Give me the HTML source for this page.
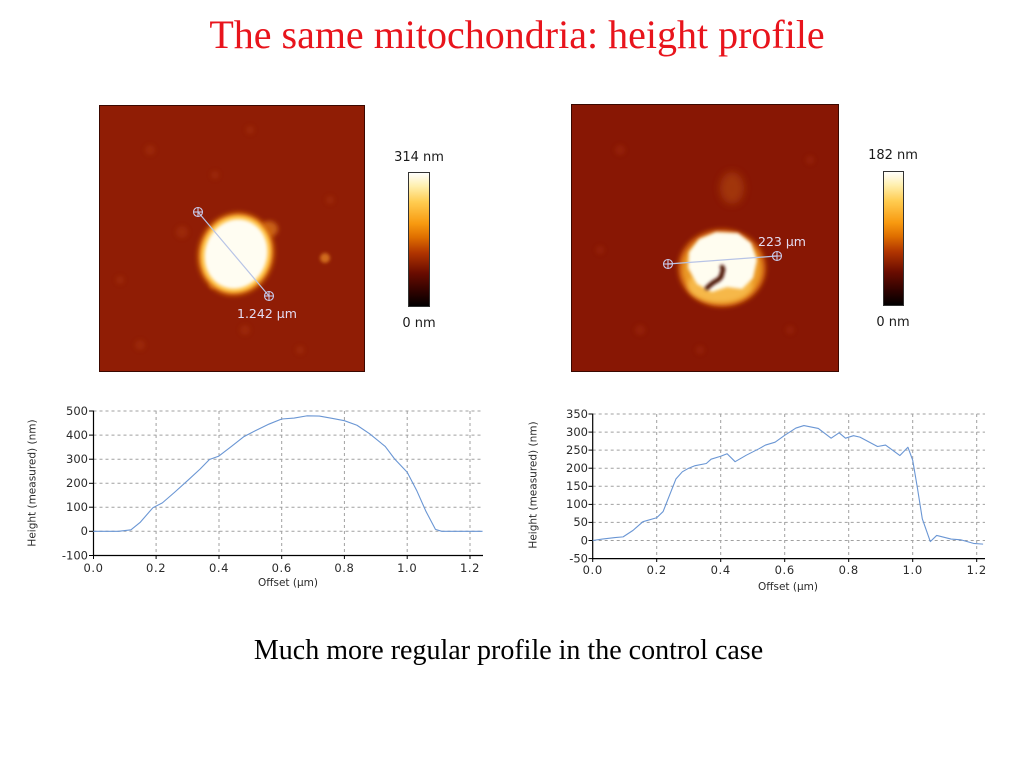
<!DOCTYPE html>
<html><head><meta charset="utf-8"><style>
html,body{margin:0;padding:0;background:#fff;}
body{width:1024px;height:767px;overflow:hidden;}
svg{display:block;}
.tk{font-family:"DejaVu Sans","Liberation Sans",sans-serif;font-size:11.5px;fill:#2a2a2a;}
.al{font-family:"DejaVu Sans","Liberation Sans",sans-serif;font-size:10.5px;fill:#2a2a2a;}
.cb{font-family:"DejaVu Sans","Liberation Sans",sans-serif;font-size:13px;fill:#1a1a1a;}
.ml{font-family:"DejaVu Sans","Liberation Sans",sans-serif;font-size:12.5px;fill:#e4dcf2;}
.g{stroke:#a0a0a0;stroke-width:1;stroke-dasharray:3,3;fill:none;}
.ax{stroke:#000;stroke-width:1.2;fill:none;}
.dl{fill:none;stroke:#6a96d4;stroke-width:1.1;vector-effect:non-scaling-stroke;stroke-linejoin:round;}
</style></head><body>
<svg width="1024" height="767" viewBox="0 0 1024 767" xmlns="http://www.w3.org/2000/svg">
<defs>
<linearGradient id="cmap" x1="0" y1="1" x2="0" y2="0">
<stop offset="0" stop-color="#000"/>
<stop offset="0.1" stop-color="#2a0200"/>
<stop offset="0.25" stop-color="#6a0c00"/>
<stop offset="0.4" stop-color="#b03400"/>
<stop offset="0.52" stop-color="#e07000"/>
<stop offset="0.62" stop-color="#f89a10"/>
<stop offset="0.78" stop-color="#ffcc50"/>
<stop offset="0.9" stop-color="#fff0b0"/>
<stop offset="1" stop-color="#fff"/>
</linearGradient>
<filter id="b1" x="-50%" y="-50%" width="200%" height="200%"><feGaussianBlur stdDeviation="1.5"/></filter>
<filter id="b2" x="-50%" y="-50%" width="200%" height="200%"><feGaussianBlur stdDeviation="2.5"/></filter>
<filter id="b3" x="-50%" y="-50%" width="200%" height="200%"><feGaussianBlur stdDeviation="4"/></filter>
<clipPath id="cL"><rect x="99" y="105" width="266" height="267"/></clipPath>
<clipPath id="cR"><rect x="571" y="104" width="268" height="268"/></clipPath>
</defs>

<!-- Title -->
<text x="517" y="48" text-anchor="middle" style="font-family:'Liberation Serif',serif;font-size:40px;fill:#e8141c;">The same mitochondria: height profile</text>

<!-- Left AFM image -->
<g clip-path="url(#cL)">
<rect x="99" y="105" width="266" height="267" fill="#901d05"/>
<g fill="#a83410" opacity="0.5" filter="url(#b2)">
<circle cx="150" cy="150" r="5"/><circle cx="250" cy="130" r="4"/><circle cx="330" cy="200" r="4"/>
<circle cx="140" cy="345" r="5"/><circle cx="245" cy="330" r="5"/><circle cx="300" cy="350" r="4"/>
<circle cx="182" cy="232" r="6"/><circle cx="215" cy="175" r="4"/><circle cx="120" cy="280" r="4"/>
</g>
<ellipse cx="269" cy="229" rx="9" ry="8" fill="#c85e18" filter="url(#b2)"/>
<circle cx="325" cy="258" r="5" fill="#d06a1e" filter="url(#b1)"/>
<circle cx="213" cy="285" r="4" fill="#bc5418" filter="url(#b1)"/>
<g transform="rotate(18 236 254)">
<ellipse cx="236" cy="254" rx="38" ry="42" fill="#d86e10" filter="url(#b2)"/>
<ellipse cx="236" cy="254" rx="35" ry="39" fill="#ffc24a" filter="url(#b1)"/>
<ellipse cx="236" cy="254" rx="31" ry="35" fill="#fffdf2" filter="url(#b1)"/>
</g>
<line x1="198" y1="212" x2="269" y2="296" stroke="#b8c4e6" stroke-width="1.2"/>
<g stroke="#c8c8e8" stroke-width="1.1" fill="none">
<circle cx="198" cy="212" r="4.5"/><line x1="193" y1="212" x2="203" y2="212"/><line x1="198" y1="207" x2="198" y2="217"/>
<circle cx="269" cy="296" r="4.5"/><line x1="264" y1="296" x2="274" y2="296"/><line x1="269" y1="291" x2="269" y2="301"/>
</g>
<text x="237" y="318" class="ml">1.242 µm</text>
</g>
<rect x="99.5" y="105.5" width="265" height="266" fill="none" stroke="#3a0800" stroke-width="1"/>

<!-- Left colorbar -->
<text x="419" y="161" text-anchor="middle" class="cb">314 nm</text>
<rect x="408.5" y="172.5" width="21" height="134" fill="url(#cmap)" stroke="#333" stroke-width="1"/>
<text x="419" y="327" text-anchor="middle" class="cb">0 nm</text>

<!-- Right AFM image -->
<g clip-path="url(#cR)">
<rect x="571" y="104" width="268" height="268" fill="#881704"/>
<g fill="#a02c10" opacity="0.5" filter="url(#b2)">
<circle cx="620" cy="150" r="5"/><circle cx="810" cy="160" r="4"/><circle cx="640" cy="330" r="5"/>
<circle cx="790" cy="330" r="4"/><circle cx="600" cy="250" r="4"/><circle cx="700" cy="350" r="4"/>
</g>
<ellipse cx="732" cy="188" rx="12" ry="16" fill="#a83c10" opacity="0.8" filter="url(#b3)"/>
<ellipse cx="722" cy="268" rx="44" ry="39" fill="#cc5c0e" filter="url(#b2)"/>
<ellipse cx="722" cy="269" rx="40" ry="35" fill="#eb9a28" filter="url(#b2)"/>
<ellipse cx="720" cy="285" rx="32" ry="17" fill="#f6b848" filter="url(#b2)"/>
<path d="M689 252 L699 239 L716 232 L738 233 L751 243 L757 260 L753 278 L742 289 L727 287 L712 292 L697 284 L688 268 Z" fill="#fffdf0" filter="url(#b1)"/>
<path d="M707 288 Q712 283 716 281 Q722 278 722 273 Q724 269 722 267" stroke="#4a0c00" stroke-width="4.5" fill="none" stroke-linecap="round" filter="url(#b1)"/>
<line x1="668" y1="264" x2="777" y2="256" stroke="#b8c4e6" stroke-width="1.2"/>
<g stroke="#c8c8e8" stroke-width="1.1" fill="none">
<circle cx="668" cy="264" r="4.5"/><line x1="663" y1="264" x2="673" y2="264"/><line x1="668" y1="259" x2="668" y2="269"/>
<circle cx="777" cy="256" r="4.5"/><line x1="772" y1="256" x2="782" y2="256"/><line x1="777" y1="251" x2="777" y2="261"/>
</g>
<text x="758" y="246" class="ml">223 µm</text>
</g>
<rect x="571.5" y="104.5" width="267" height="267" fill="none" stroke="#3a0800" stroke-width="1"/>

<!-- Right colorbar -->
<text x="893" y="159" text-anchor="middle" class="cb">182 nm</text>
<rect x="883.5" y="171.5" width="20" height="134" fill="url(#cmap)" stroke="#333" stroke-width="1"/>
<text x="893" y="326" text-anchor="middle" class="cb">0 nm</text>

<!-- Left chart -->
<g>
<line class="g" x1="93.5" y1="411" x2="483" y2="411"/>
<line class="g" x1="93.5" y1="435.1" x2="483" y2="435.1"/>
<line class="g" x1="93.5" y1="459.2" x2="483" y2="459.2"/>
<line class="g" x1="93.5" y1="483.3" x2="483" y2="483.3"/>
<line class="g" x1="93.5" y1="507.2" x2="483" y2="507.2"/>
<line class="g" x1="93.5" y1="531.3" x2="483" y2="531.3"/>
<line class="g" x1="156.1" y1="411" x2="156.1" y2="555"/>
<line class="g" x1="219" y1="411" x2="219" y2="555"/>
<line class="g" x1="281.7" y1="411" x2="281.7" y2="555"/>
<line class="g" x1="344.4" y1="411" x2="344.4" y2="555"/>
<line class="g" x1="407.2" y1="411" x2="407.2" y2="555"/>
<line class="g" x1="470" y1="411" x2="470" y2="555"/>
<line class="ax" x1="93.5" y1="410.5" x2="93.5" y2="556"/>
<line class="ax" x1="93" y1="555.5" x2="483" y2="555.5"/>
<g stroke="#000" stroke-width="1">
<line x1="89" y1="411" x2="93.5" y2="411"/><line x1="89" y1="435.1" x2="93.5" y2="435.1"/><line x1="89" y1="459.2" x2="93.5" y2="459.2"/>
<line x1="89" y1="483.3" x2="93.5" y2="483.3"/><line x1="89" y1="507.2" x2="93.5" y2="507.2"/><line x1="89" y1="531.3" x2="93.5" y2="531.3"/>
<line x1="89" y1="555.5" x2="93.5" y2="555.5"/>
<line x1="93.5" y1="555.5" x2="93.5" y2="559"/><line x1="156.1" y1="555.5" x2="156.1" y2="559"/><line x1="219" y1="555.5" x2="219" y2="559"/>
<line x1="281.7" y1="555.5" x2="281.7" y2="559"/><line x1="344.4" y1="555.5" x2="344.4" y2="559"/><line x1="407.2" y1="555.5" x2="407.2" y2="559"/>
<line x1="470" y1="555.5" x2="470" y2="559"/>
</g>
<g class="tk" text-anchor="end">
<text x="88" y="415">500</text><text x="88" y="439">400</text><text x="88" y="463">300</text>
<text x="88" y="487">200</text><text x="88" y="511">100</text><text x="88" y="535">0</text><text x="88" y="559.5">-100</text>
</g>
<g class="tk" text-anchor="middle" style="letter-spacing:0.6px">
<text x="93.5" y="572">0.0</text><text x="156.1" y="572">0.2</text><text x="219" y="572">0.4</text><text x="281.7" y="572">0.6</text>
<text x="344.4" y="572">0.8</text><text x="407.2" y="572">1.0</text><text x="470" y="572">1.2</text>
</g>
<text x="288" y="586" text-anchor="middle" class="al">Offset (µm)</text>
<text x="0" y="0" transform="translate(35.5 483) rotate(-90)" text-anchor="middle" class="al">Height (measured) (nm)</text>
<g transform="translate(93.3 531.3) scale(313.9 -0.241)">
<polyline class="dl" points="0,0 0.08,0 0.12,6 0.15,38 0.19,98 0.22,118 0.26,163 0.30,210 0.34,258 0.37,298 0.40,312 0.44,352 0.48,393 0.52,420 0.56,445 0.60,466 0.64,470 0.68,479 0.72,478 0.76,469 0.80,459 0.84,440 0.88,405 0.93,352 0.96,300 1.00,245 1.03,170 1.06,82 1.09,8 1.11,0 1.24,0"/>
</g>
</g>

<!-- Right chart -->
<g>
<line class="g" x1="592.7" y1="414" x2="985" y2="414"/>
<line class="g" x1="592.7" y1="432.1" x2="985" y2="432.1"/>
<line class="g" x1="592.7" y1="450.1" x2="985" y2="450.1"/>
<line class="g" x1="592.7" y1="468.2" x2="985" y2="468.2"/>
<line class="g" x1="592.7" y1="486.3" x2="985" y2="486.3"/>
<line class="g" x1="592.7" y1="504.4" x2="985" y2="504.4"/>
<line class="g" x1="592.7" y1="522.4" x2="985" y2="522.4"/>
<line class="g" x1="592.7" y1="540.5" x2="985" y2="540.5"/>
<line class="g" x1="656.7" y1="414" x2="656.7" y2="558"/>
<line class="g" x1="720.7" y1="414" x2="720.7" y2="558"/>
<line class="g" x1="784.7" y1="414" x2="784.7" y2="558"/>
<line class="g" x1="848.7" y1="414" x2="848.7" y2="558"/>
<line class="g" x1="912.7" y1="414" x2="912.7" y2="558"/>
<line class="g" x1="976.7" y1="414" x2="976.7" y2="558"/>
<line class="ax" x1="592.7" y1="413.5" x2="592.7" y2="559"/>
<line class="ax" x1="592" y1="558.6" x2="985" y2="558.6"/>
<g stroke="#000" stroke-width="1">
<line x1="588.5" y1="414" x2="592.7" y2="414"/><line x1="588.5" y1="432.1" x2="592.7" y2="432.1"/><line x1="588.5" y1="450.1" x2="592.7" y2="450.1"/>
<line x1="588.5" y1="468.2" x2="592.7" y2="468.2"/><line x1="588.5" y1="486.3" x2="592.7" y2="486.3"/><line x1="588.5" y1="504.4" x2="592.7" y2="504.4"/>
<line x1="588.5" y1="522.4" x2="592.7" y2="522.4"/><line x1="588.5" y1="540.5" x2="592.7" y2="540.5"/><line x1="588.5" y1="558.6" x2="592.7" y2="558.6"/>
<line x1="592.7" y1="558.6" x2="592.7" y2="562"/><line x1="656.7" y1="558.6" x2="656.7" y2="562"/><line x1="720.7" y1="558.6" x2="720.7" y2="562"/>
<line x1="784.7" y1="558.6" x2="784.7" y2="562"/><line x1="848.7" y1="558.6" x2="848.7" y2="562"/><line x1="912.7" y1="558.6" x2="912.7" y2="562"/>
<line x1="976.7" y1="558.6" x2="976.7" y2="562"/>
</g>
<g class="tk" text-anchor="end">
<text x="588" y="418">350</text><text x="588" y="436">300</text><text x="588" y="454">250</text>
<text x="588" y="472">200</text><text x="588" y="490">150</text><text x="588" y="508">100</text>
<text x="588" y="526">50</text><text x="588" y="544.5">0</text><text x="588" y="562.5">-50</text>
</g>
<g class="tk" text-anchor="middle" style="letter-spacing:0.6px">
<text x="592.7" y="574">0.0</text><text x="656.7" y="574">0.2</text><text x="720.7" y="574">0.4</text><text x="784.7" y="574">0.6</text>
<text x="848.7" y="574">0.8</text><text x="912.7" y="574">1.0</text><text x="976.7" y="574">1.2</text>
</g>
<text x="788" y="590" text-anchor="middle" class="al">Offset (µm)</text>
<text x="0" y="0" transform="translate(536.5 485) rotate(-90)" text-anchor="middle" class="al">Height (measured) (nm)</text>
<g transform="translate(592.7 540.5) scale(320 -0.3615)">
<polyline class="dl" points="0,0 0.03,4 0.07,8 0.095,10 0.126,28 0.157,52 0.2,63 0.22,80 0.24,125 0.26,170 0.28,190 0.30,200 0.32,207 0.355,213 0.37,225 0.40,233 0.42,240 0.445,218 0.48,236 0.52,254 0.54,264 0.57,272 0.60,291 0.635,311 0.66,318 0.705,310 0.745,283 0.77,298 0.79,283 0.815,290 0.835,286 0.89,260 0.915,264 0.96,235 0.985,258 1.0,222 1.015,144 1.03,60 1.055,-3 1.075,14 1.12,4 1.15,2 1.19,-8 1.22,-10"/>
</g>
</g>

<!-- Caption -->
<text x="508.5" y="659" text-anchor="middle" style="font-family:'Liberation Serif',serif;font-size:28px;fill:#000;">Much more regular profile in the control case</text>
</svg>
</body></html>
